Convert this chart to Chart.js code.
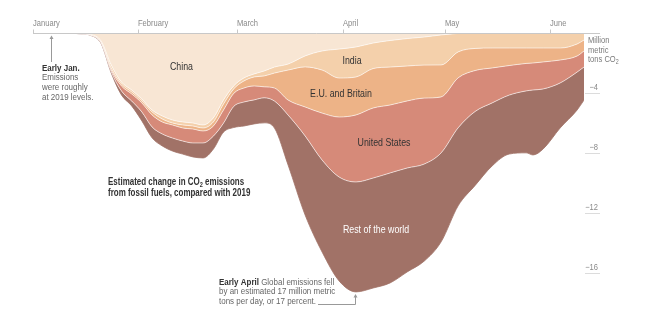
<!DOCTYPE html>
<html>
<head>
<meta charset="utf-8">
<script src="https://cdn.jsdelivr.net/npm/chart.js@4"></script>
<style>
  html, body { margin: 0; padding: 0; background: #fff; }
  #chart { display: block; }
</style>
</head>
<body>
<canvas id="chart" width="650" height="323"></canvas>
<script>
// days since Jan 1, 2020
const days = [0, 10, 14, 17, 20, 23, 26, 29, 32, 35, 38, 41, 44, 47, 50, 53, 56, 59, 62, 65, 68, 71, 75, 80, 85, 90, 95, 100, 105, 110, 115, 120, 125, 130, 135, 140, 145, 147, 150, 155, 160, 162];

// drop in daily emissions, million metric tons CO2 (each layer)
const china = [0, 0, 0.03, 0.1, 0.53, 2.13, 3.27, 3.8, 4.4, 5.13, 5.53, 5.8, 5.93, 6.0, 6.13, 5.67, 4.47, 3.53, 3.0, 2.73, 2.53, 2.27, 2.07, 1.53, 1.2, 1.07, 0.93, 0.67, 0.5, 0.37, 0.27, 0.13, 0.03, 0, 0, 0, 0, 0, 0, 0, 0, 0];
const india = [0, 0, 0.01, 0.03, 0.07, 0.2, 0.13, 0.13, 0.13, 0.13, 0.2, 0.2, 0.2, 0.2, 0.2, 0.27, 0.27, 0.2, 0.2, 0.2, 0.33, 0.4, 0.4, 0.73, 1.27, 1.93, 2.0, 1.7, 1.77, 1.83, 1.87, 2.0, 1.23, 1.03, 1.0, 1.0, 1.0, 1.0, 1.0, 1.0, 0.73, 0.47];
const euBritain = [0, 0, 0.01, 0.01, 0.03, 0.13, 0.13, 0.13, 0.13, 0.2, 0.2, 0.13, 0.2, 0.2, 0.2, 0.27, 0.4, 0.3, 0.47, 0.6, 0.73, 1.0, 2.0, 2.67, 2.87, 2.6, 2.53, 2.63, 2.53, 2.33, 2.2, 2.13, 1.73, 1.47, 1.33, 1.17, 1.03, 1.0, 0.93, 0.8, 0.8, 0.73];
const unitedStates = [0, 0, 0.01, 0.01, 0.03, 0.13, 0.33, 0.47, 0.6, 0.8, 0.8, 0.87, 0.87, 0.93, 0.8, 0.67, 0.87, 0.87, 0.93, 0.93, 0.73, 0.87, 1.0, 1.93, 3.13, 4.0, 4.47, 4.67, 4.53, 4.47, 4.4, 3.73, 3.33, 2.73, 2.33, 1.97, 1.83, 1.8, 1.8, 1.53, 1.07, 1.07];
const restOfWorld = [0, 0, 0, 0.01, 0.03, 0.07, 0.27, 0.33, 0.6, 0.73, 0.8, 0.87, 0.87, 0.93, 1.0, 0.87, 0.6, 1.4, 1.6, 1.6, 1.67, 1.8, 3.33, 5.27, 6.13, 6.93, 7.33, 7.33, 7.33, 6.93, 6.47, 5.93, 5.2, 4.93, 4.2, 3.93, 4.13, 4.33, 4.0, 3.0, 2.53, 2.2];

const seriesNames = ['China', 'India', 'E.U. and Britain', 'United States', 'Rest of the world'];
const monthNames = ['January', 'February', 'March', 'April', 'May', 'June'];
const monthStarts = [0, 31, 60, 91, 121, 152];
const yTicks = [-4, -8, -12, -16];

const colors = ['#f8e6d4', '#f4d0ab', '#edb387', '#d68a79', '#a17267'];
const FONT = '"Liberation Sans", Arial, sans-serif';
const NARROW = 0.84; // squeeze text to look like a condensed face

// stack the layers downward from zero
const layers = [china, india, euBritain, unitedStates, restOfWorld];
let running = days.map(() => 0);
const datasets = layers.map((vals, i) => {
  running = running.map((r, k) => r - vals[k]);
  return {
    label: seriesNames[i],
    data: days.map((d, k) => ({ x: d, y: running[k] })),
    backgroundColor: colors[i],
    borderColor: i === layers.length - 1 ? colors[i] : 'rgba(255,255,255,0.75)',
    borderWidth: 0.8,
    fill: i === 0 ? 'origin' : '-1',
    pointRadius: 0,
    cubicInterpolationMode: 'monotone'
  };
});

// draws text squeezed horizontally, returns its drawn width
function txt(ctx, t, x, y, size, weight, color, align, sx) {
  sx = sx || NARROW;
  ctx.save();
  ctx.font = `${weight || 'normal'} ${size}px ${FONT}`;
  ctx.fillStyle = color;
  ctx.textAlign = align || 'left';
  ctx.translate(x, y);
  ctx.scale(sx, 1);
  ctx.fillText(t, 0, 0);
  const w = ctx.measureText(t).width * sx;
  ctx.restore();
  return w;
}

function textParts(ctx, parts, x, y, size, weight, color, sx) {
  let cx = x;
  parts.forEach(([t, sub]) => {
    cx += txt(ctx, t, cx, sub ? y + size * 0.3 : y, sub ? size * 0.7 : size, weight, color, 'left', sx);
  });
}

function arrowUp(ctx, x, y) {
  ctx.beginPath();
  ctx.moveTo(x, y);
  ctx.lineTo(x - 2, y + 3.5);
  ctx.lineTo(x + 2, y + 3.5);
  ctx.closePath();
  ctx.fill();
}

const decorations = {
  id: 'decorations',
  afterDatasetsDraw(chart) {
    const ctx = chart.ctx;
    const xs = chart.scales.x, ys = chart.scales.y;
    const y0 = Math.round(ys.getPixelForValue(0)) + 0.5;
    ctx.save();
    ctx.textBaseline = 'middle';

    // zero line and month ticks
    ctx.strokeStyle = '#c8c8c8';
    ctx.lineWidth = 1;
    ctx.beginPath();
    ctx.moveTo(xs.getPixelForValue(0), y0);
    ctx.lineTo(600, y0);
    ctx.stroke();
    monthStarts.forEach((d, i) => {
      const px = Math.round(xs.getPixelForValue(d)) + 0.5;
      ctx.beginPath();
      ctx.moveTo(px, y0 - 4);
      ctx.lineTo(px, y0);
      ctx.stroke();
      txt(ctx, monthNames[i], px - 0.5, 24, 9, 'normal', '#8a8a8a');
    });

    // right-hand value ticks
    ctx.strokeStyle = '#dcdcdc';
    yTicks.forEach(v => {
      const py = Math.round(ys.getPixelForValue(v)) + 0.5;
      ctx.beginPath();
      ctx.moveTo(585, py);
      ctx.lineTo(600, py);
      ctx.stroke();
      txt(ctx, '\u2212' + Math.abs(v), 598, py - 6, 9, 'normal', '#8a8a8a', 'right');
    });
    txt(ctx, 'Million', 588, 41, 9, 'normal', '#7a7a7a');
    txt(ctx, 'metric', 588, 50.5, 9, 'normal', '#7a7a7a');
    textParts(ctx, [['tons CO', false], ['2', true]], 588, 60, 9, 'normal', '#7a7a7a');

    // layer labels
    txt(ctx, 'China', 181.5, 67, 10.5, 'normal', '#333', 'center');
    txt(ctx, 'India', 352, 61, 10.5, 'normal', '#333', 'center');
    txt(ctx, 'E.U. and Britain', 341, 94.5, 10.5, 'normal', '#333', 'center');
    txt(ctx, 'United States', 384, 143, 10.5, 'normal', '#333', 'center');
    txt(ctx, 'Rest of the world', 376, 230, 10.5, 'normal', '#fff', 'center');

    // title
    textParts(ctx, [['Estimated change in CO', false], ['2', true], [' emissions', false]], 108, 182, 10.5, 'bold', '#333', 0.76);
    txt(ctx, 'from fossil fuels, compared with 2019', 108, 193, 10.5, 'bold', '#333', 'left', 0.76);

    // early Jan note
    txt(ctx, 'Early Jan.', 42, 68, 9.5, 'bold', '#333');
    txt(ctx, 'Emissions', 42, 77.7, 9.5, 'normal', '#666');
    txt(ctx, 'were roughly', 42, 87.4, 9.5, 'normal', '#666');
    txt(ctx, 'at 2019 levels.', 42, 97, 9.5, 'normal', '#666');
    ctx.strokeStyle = '#999';
    ctx.fillStyle = '#999';
    ctx.beginPath();
    ctx.moveTo(51.5, 62);
    ctx.lineTo(51.5, 38);
    ctx.stroke();
    arrowUp(ctx, 51.5, 35.5);

    // early April note
    const w = txt(ctx, 'Early April ', 219, 282, 9.5, 'bold', '#333');
    txt(ctx, 'Global emissions fell', 219 + w, 282, 9.5, 'normal', '#666');
    txt(ctx, 'by an estimated 17 million metric', 219, 291.5, 9.5, 'normal', '#666');
    txt(ctx, 'tons per day, or 17 percent.', 219, 301, 9.5, 'normal', '#666');
    const ax = Math.round(xs.getPixelForValue(94.7)) + 0.5;
    ctx.strokeStyle = '#999';
    ctx.fillStyle = '#999';
    ctx.beginPath();
    ctx.moveTo(318, 304.5);
    ctx.lineTo(ax, 304.5);
    ctx.lineTo(ax, 297);
    ctx.stroke();
    arrowUp(ctx, ax, 294);
    ctx.restore();
  }
};

new Chart(document.getElementById('chart').getContext('2d'), {
  type: 'line',
  data: { datasets },
  options: {
    responsive: false,
    animation: false,
    devicePixelRatio: 1,
    layout: { padding: { left: 33, right: 66, top: 33, bottom: 5 } },
    plugins: { legend: { display: false }, tooltip: { enabled: false } },
    scales: {
      x: { type: 'linear', min: 0, max: 162, display: false },
      y: { min: -19, max: 0, display: false }
    }
  },
  plugins: [decorations]
});
</script>
</body>
</html>
